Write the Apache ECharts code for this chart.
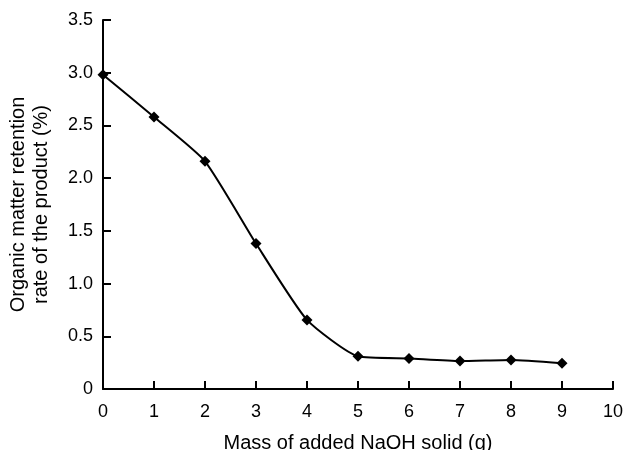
<!DOCTYPE html>
<html>
<head>
<meta charset="utf-8">
<script src="https://cdn.jsdelivr.net/npm/echarts@6/dist/echarts.min.js"></script>
<style>html,body{margin:0;padding:0;background:#fff}#c{width:626px;height:450px}</style>
</head>
<body>
<div id="c"></div>
<script>
const xValues = [0, 1, 2, 3, 4, 5, 6, 7, 8, 9];
const retention = [2.98, 2.58, 2.16, 1.38, 0.655, 0.31, 0.29, 0.265, 0.275, 0.245];
const xTicks = [0, 1, 2, 3, 4, 5, 6, 7, 8, 9, 10];
const yTicks = [0, 0.5, 1.0, 1.5, 2.0, 2.5, 3.0, 3.5];

const chart = echarts.init(document.getElementById('c'));
const font = '"Liberation Sans", Arial, sans-serif';
chart.setOption({
  animation: false,
  backgroundColor: '#fff',
  grid: { left: 103, right: 13, top: 20, bottom: 61, containLabel: false, outerBoundsMode: 'none' },
  xAxis: {
    type: 'value', min: 0, max: 10, interval: 1,
    name: 'Mass of added NaOH solid (g)',
    nameLocation: 'middle', nameGap: 44,
    nameTextStyle: { fontFamily: font, fontSize: 20, color: '#000' },
    axisLine: { lineStyle: { color: '#000', width: 2 } },
    axisTick: { inside: true, length: 8, lineStyle: { color: '#000', width: 2 } },
    axisLabel: { fontFamily: font, fontSize: 18, color: '#000', margin: 14,
      formatter: v => xTicks.includes(v) ? String(v) : '' },
    splitLine: { show: false }
  },
  yAxis: {
    type: 'value', min: 0, max: 3.5, interval: 0.5,
    name: 'Organic matter retention\nrate of the product (%)',
    nameLocation: 'middle', nameGap: 50,
    nameTextStyle: { fontFamily: font, fontSize: 20, color: '#000', lineHeight: 23 },
    axisLine: { show: true, lineStyle: { color: '#000', width: 2 } },
    axisTick: { show: true, inside: true, length: 8, lineStyle: { color: '#000', width: 2 } },
    axisLabel: { fontFamily: font, fontSize: 18, color: '#000', margin: 10,
      formatter: v => {
        const t = yTicks.find(y => Math.abs(y - v) < 1e-9);
        if (t === undefined) return '';
        return t === 0 ? '0' : t.toFixed(1);
      } },
    splitLine: { show: false }
  },
  series: [{
    type: 'line',
    data: xValues.map((x, i) => [x, retention[i]]),
    smooth: 0.18,
    symbol: 'diamond',
    symbolSize: 11,
    lineStyle: { color: '#000', width: 2 },
    itemStyle: { color: '#000' }
  }]
});
</script>
</body>
</html>
